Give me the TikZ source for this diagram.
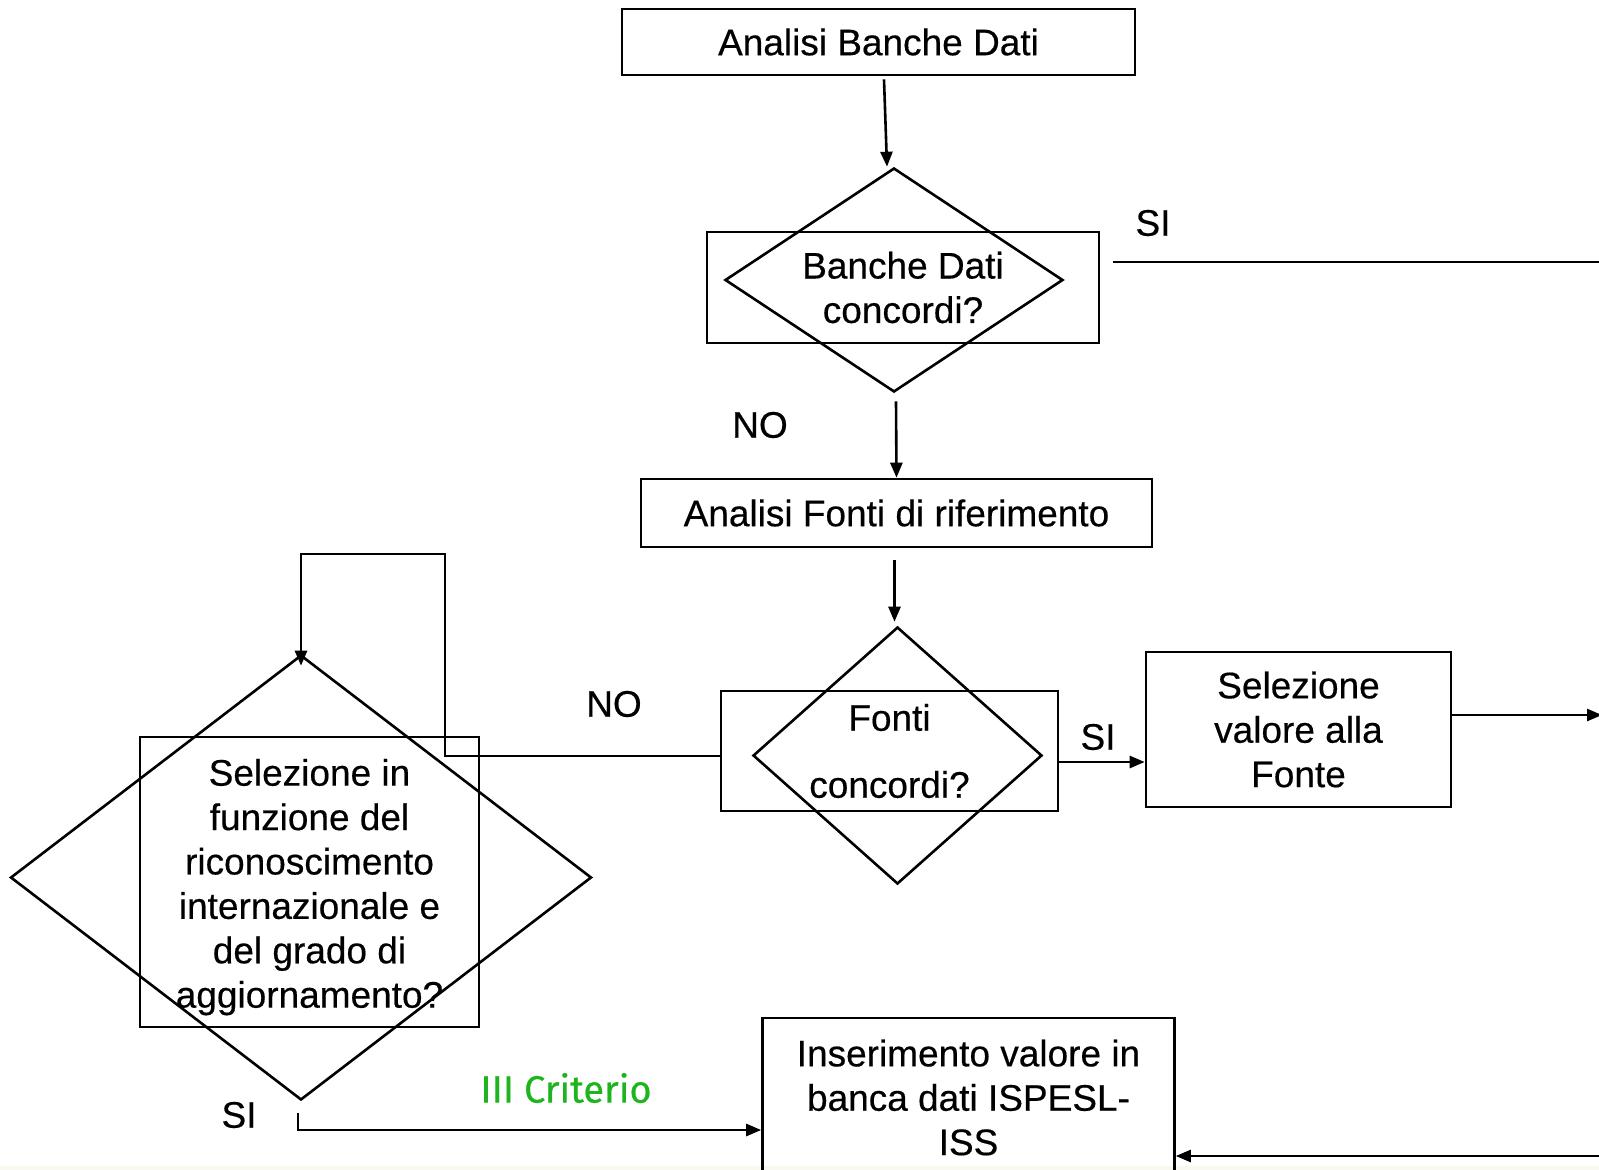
\documentclass[tikz,border=0pt]{standalone}
\usepackage{fontspec}
\setmainfont{Liberation Sans}[FakeBold=0.4]
\newfontfamily\critfont{Fira Sans}[FakeBold=0.5]
\usetikzlibrary{arrows.meta,shapes.geometric,calc}
\definecolor{critgreen}{RGB}{30,180,30}
\definecolor{creamstrip}{RGB}{250,249,240}
\begin{document}
\begin{tikzpicture}[x=1pt,y=-1pt, line width=2.6pt,
  box/.style={draw, rectangle, inner sep=0pt, align=center, font=\fontsize{37}{44.4}\selectfont},
  dia/.style={draw, diamond, inner sep=0pt},
  lbl/.style={font=\fontsize{37}{44.4}\selectfont, inner sep=0pt},
  arr/.style={-{Triangle[length=15pt,width=12pt]}},
]
\useasboundingbox (0,0) rectangle (1599,1170);
\fill[creamstrip] (0,1166) rectangle (1599,1170);

% nodes
\node[box, minimum width=513pt, minimum height=66pt] (b1) at (878.5,42) {Analisi Banche Dati};
\node[box, minimum width=392pt, minimum height=111pt] (r1) at (903,287.5) {Banche Dati\\concordi?};
\node[dia, minimum width=338pt, minimum height=224pt] (d1) at (894,280) {};
\node[box, minimum width=511pt, minimum height=68pt] (b2) at (896.5,513) {Analisi Fonti di riferimento};
\node[box, minimum width=337pt, minimum height=120pt] (r2) at (889.5,751) {Fonti\\[22.6pt]concordi?};
\node[dia, minimum width=289pt, minimum height=257pt] (d2) at (897.5,755.5) {};
\node[box, minimum width=305pt, minimum height=155pt] (b3) at (1298.5,729.5) {Selezione\\valore alla\\Fonte};
\node[box, minimum width=339pt, minimum height=290pt] (r3) at (309.5,882) {\rule{0pt}{37pt}Selezione in\\funzione del\\riconoscimento\\internazionale e\\del grado di\\aggiornamento?};
\node[dia, minimum width=581pt, minimum height=445pt] (d3) at (301,877.5) {};
\node[box, minimum width=412pt, minimum height=159pt] (b4) at (968.5,1097.5) {Inserimento valore in\\banca dati ISPESL-\\ISS};

% labels
\node[lbl] (si1) at (1153,223) {SI};
\node[lbl] (no1) at (760,425) {NO};
\node[lbl] (no2) at (614,704) {NO};
\node[lbl] (si2) at (1098,737) {SI};
\node[lbl] (si3) at (239,1115) {SI};
\node[font=\critfont\fontsize{38}{40}\selectfont, text=critgreen, inner sep=0pt] (crit) at (566,1088) {III Criterio};

% free ends
\coordinate (e1) at (1602,715);
\coordinate (e2) at (1600,262);
\coordinate (e3) at (1600,1156);
\coordinate (s2) at ($(e2 -| r1.east)+(13,0)$);
\coordinate (a2) at ([yshift=-11pt]r2.east);
\coordinate (lp) at (445,554);
\coordinate (s3) at ($(d3.south)+(-3,12)$);

% connectors
\draw[arr] ([shift={(5.5,3)}]b1.south) -- ([xshift=-7pt]d1.north);
\draw (s2) -- (e2);
\draw[arr] ([shift={(2,8)}]d1.south) -- (b2.north);
\draw[arr] ([shift={(-2,12)}]b2.south) -- ([shift={(-3,-4)}]d2.north);
\draw[arr] (a2) -- (a2 -| b3.west);
\draw[arr] (e1 -| b3.east) -- (e1);
\draw[arr] ([yshift=-5pt]r2.west) -| (lp) -| ([yshift=-12pt]d3.north);
\draw[arr] (s3) |- ([yshift=-32.5pt]b4.west);
\draw[arr] (e3) -- (e3 -| b4.east);
\end{tikzpicture}
\end{document}
